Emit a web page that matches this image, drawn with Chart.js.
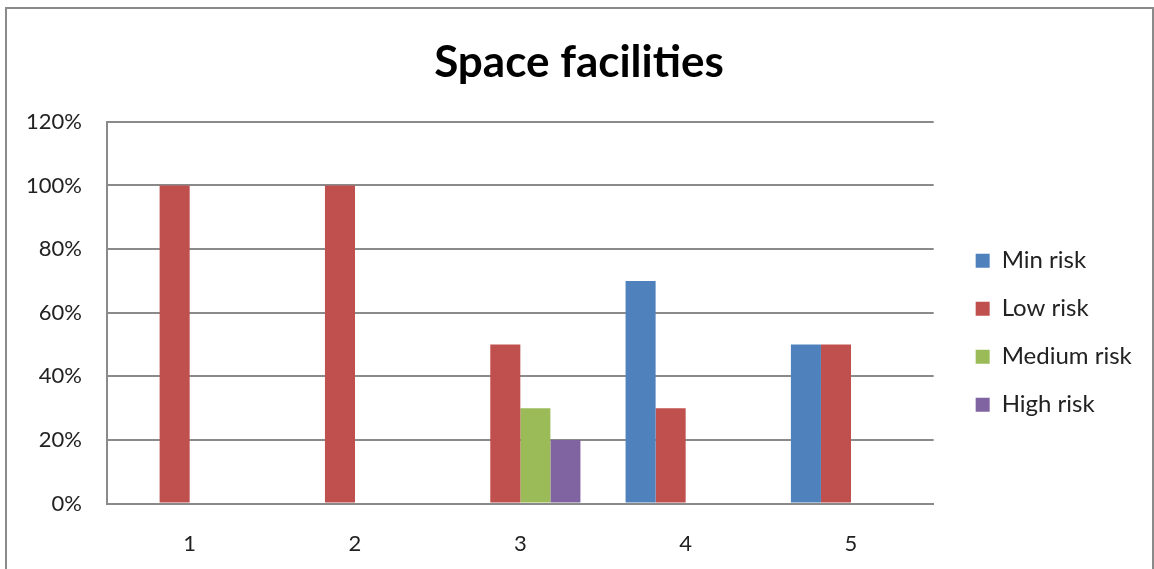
<!DOCTYPE html>
<html>
<head>
<meta charset="utf-8">
<script src="https://cdn.jsdelivr.net/npm/chart.js@4"></script>
<style>
  html, body { margin: 0; padding: 0; background: #fff; overflow: hidden; }
  #frame { position: absolute; left: 5px; top: 7px; width: 1145px; height: 580px; border: 2px solid #8a8a8a; }
  #wrap { position: absolute; left: 0; top: 0; width: 1154px; height: 569px; }
</style>
</head>
<body>
<div id="frame"></div>
<div id="wrap"><canvas id="canvas"></canvas></div>
<script>
var categories = ["1", "2", "3", "4", "5"];
var minRisk = [0, 0, 0, 0.70, 0.50];
var lowRisk = [1.00, 1.00, 0.50, 0.30, 0.50];
var mediumRisk = [0, 0, 0.30, 0, 0];
var highRisk = [0, 0, 0.20, 0, 0];
var seriesNames = ["Min risk", "Low risk", "Medium risk", "High risk"];

var chartData = {
    labels: categories,
    datasets: [{
        label: seriesNames[0],
        backgroundColor: "#4F81BD",
        data: minRisk
    }, {
        label: seriesNames[1],
        backgroundColor: "#C0504D",
        data: lowRisk
    }, {
        label: seriesNames[2],
        backgroundColor: "#9BBB59",
        data: mediumRisk
    }, {
        label: seriesNames[3],
        backgroundColor: "#8064A2",
        data: highRisk
    }]
};

// legend sits a bit lower than the plot middle in the original
var legendShift = {
    id: 'legendShift',
    beforeDraw: function (chart) {
        var l = chart.legend;
        l.top = chart.chartArea.top + 20;
        l.bottom = chart.chartArea.bottom + 20;
    }
};

window.onload = function () {
    var ctx = document.getElementById("canvas").getContext("2d");
    window.myBarChart = new Chart(ctx, {
        type: 'bar',
        data: chartData,
        plugins: [legendShift],
        options: {
            responsive: true,
            maintainAspectRatio: false,
            animation: false,
            categoryPercentage: 0.727,
            barPercentage: 1,
            layout: { padding: { left: 20, right: 16, top: 36, bottom: 12 } },
            plugins: {
                title: {
                    display: true,
                    text: 'Space facilities',
                    color: '#000',
                    font: { family: 'Lato', size: 44, weight: 'bold' },
                    padding: { top: 0, bottom: 33 }
                },
                legend: {
                    position: 'right',
                    align: 'center',
                    labels: {
                        boxWidth: 14,
                        boxHeight: 14,
                        padding: 24,
                        color: '#222',
                        font: { family: 'Lato', size: 24 }
                    }
                },
                tooltip: { enabled: false }
            },
            scales: {
                x: {
                    grid: { display: true, drawOnChartArea: false, drawTicks: true, tickLength: 27, color: 'rgba(0,0,0,0)' },
                    border: { display: true, color: '#8a8a8a', width: 2 },
                    ticks: { color: '#222', padding: 0, font: { family: 'Lato', size: 22 } }
                },
                y: {
                    min: 0,
                    max: 1.2,
                    grid: { color: '#8a8a8a', lineWidth: 2, drawTicks: false },
                    border: { display: true, color: '#8a8a8a', width: 2 },
                    ticks: {
                        stepSize: 0.2,
                        padding: 25,
                        color: '#222',
                        font: { family: 'Lato', size: 22 },
                        callback: function (v) { return Math.round(v * 100) + '%'; }
                    },
                    afterFit: function (scale) { scale.width = 87; }
                },
                gap: {
                    position: 'right',
                    display: true,
                    grid: { display: false },
                    border: { display: false },
                    ticks: { display: false },
                    afterFit: function (scale) { scale.width = 18; }
                }
            }
        }
    });
};
</script>
</body>
</html>
